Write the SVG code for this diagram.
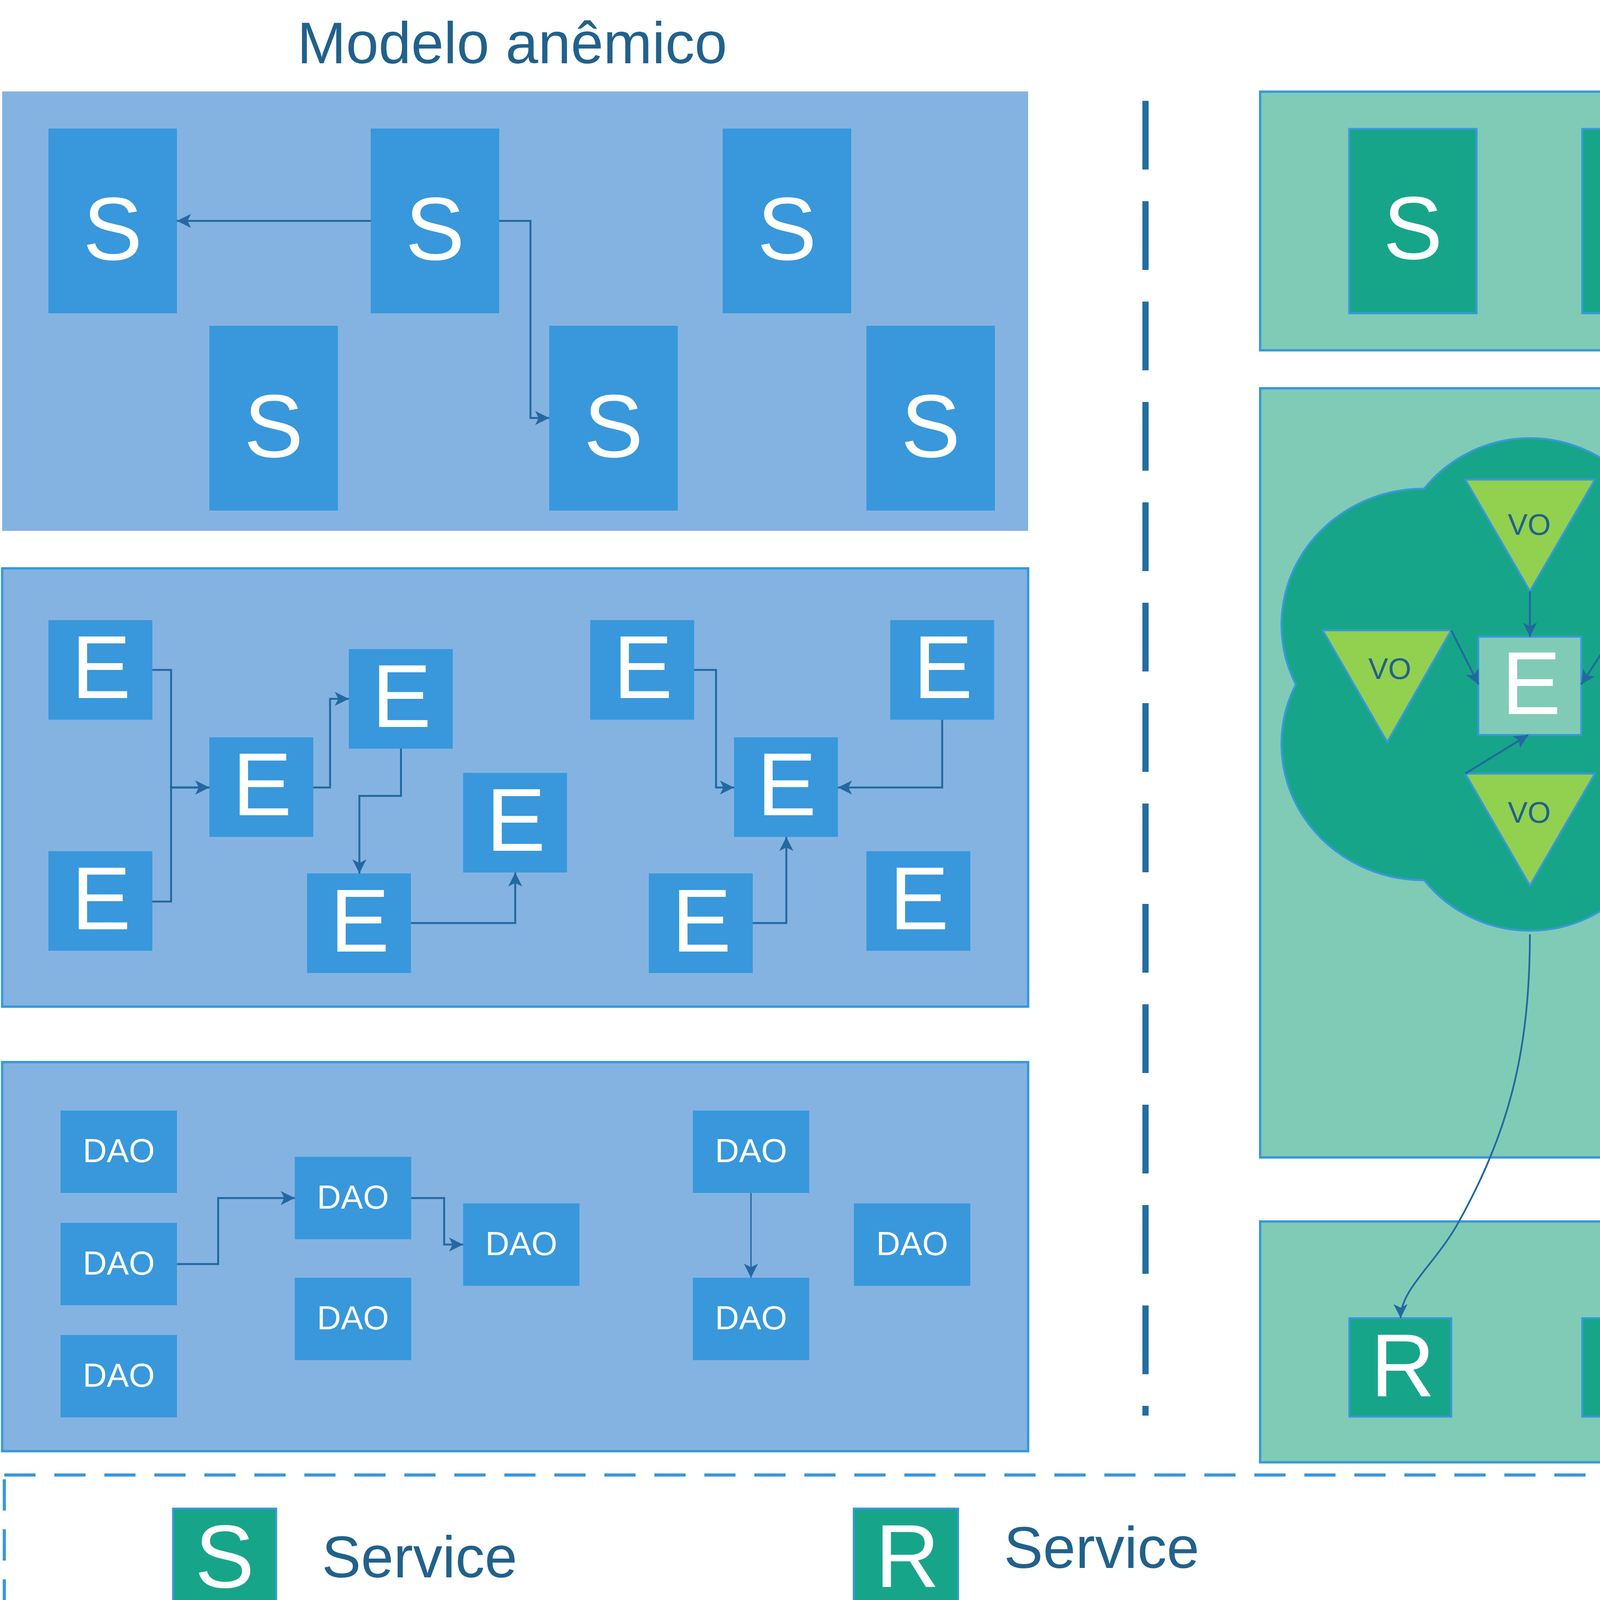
<svg xmlns="http://www.w3.org/2000/svg" width="5740" height="4400" viewBox="0 0 5740 4400">
<style>
.pl{fill:#84B3E2}
.pb{fill:#84B3E2;stroke:#3898DB;stroke-width:6}
.pg{fill:#80CBB6;stroke:#3898DB;stroke-width:6}
.nb{fill:#3898DB}
.ng{fill:#17A589;stroke:#3898DB;stroke-width:5}
.ne{fill:#2E86C1;stroke:#3898DB;stroke-width:5}
.cl{fill:#17A589;stroke:#3898DB;stroke-width:5}
.vo{fill:#92D050;stroke:#3898DB;stroke-width:5;stroke-linejoin:round}
.ei{fill:#80CBB6;stroke:#3898DB;stroke-width:5}
text{font-family:"Liberation Sans",Arial,sans-serif}
.w{fill:#FFFFFF;text-anchor:middle;font-size:228px}
.wd{fill:#FFFFFF;text-anchor:middle;font-size:85px}
.d{fill:#21618C}
.dm{fill:#21618C;text-anchor:middle}
.h{font-size:150px}
.v{font-size:76px}
.c{fill:none;stroke:#2369A0;stroke-width:5;marker-end:url(#ah)}
.cc{fill:none;stroke:#2369A0;stroke-width:4.5;marker-end:url(#ah)}
</style>
<defs>
<marker id="ah" viewBox="-40 -20 42 40" refX="0" refY="0" markerWidth="42" markerHeight="40" orient="auto" markerUnits="userSpaceOnUse"><path d="M0,0 L-36,-18 L-27,0 L-36,18 Z" fill="#2369A0"/></marker>
</defs>
<rect width="5740" height="4400" fill="#FFFFFF"/>

<g id="titles">
<text class="dm h" x="1311" y="162">Modelo anêmico</text>
<text class="dm h" x="4376" y="162">DDD</text>
</g>

<g id="divider"><line x1="2932.5" y1="258" x2="2932.5" y2="3624" stroke="#236EA0" stroke-width="16" stroke-dasharray="176 81"/></g>

<g id="anemic-services-panel"><rect class="pl" x="5.5" y="234" width="2626.5" height="1125"/></g>
<g id="as1"><rect class="nb" x="124" y="329" width="329" height="473"/><text class="w" x="288.5" y="665">S</text></g>
<g id="as2"><rect class="nb" x="949" y="329" width="329" height="473"/><text class="w" x="1113.5" y="665">S</text></g>
<g id="as3"><rect class="nb" x="1850" y="329" width="329" height="473"/><text class="w" x="2014.5" y="665">S</text></g>
<g id="as4"><rect class="nb" x="536" y="834" width="329" height="473"/><text class="w" x="700.5" y="1170">S</text></g>
<g id="as5"><rect class="nb" x="1406" y="834" width="329" height="473"/><text class="w" x="1570.5" y="1170">S</text></g>
<g id="as6"><rect class="nb" x="2218" y="834" width="329" height="473"/><text class="w" x="2382.5" y="1170">S</text></g>

<g id="anemic-entities-panel"><rect class="pb" x="5.5" y="1455" width="2626.5" height="1122"/></g>
<g id="ae1"><rect class="nb" x="124" y="1587.5" width="266" height="255"/><text class="w" x="259" y="1787">E</text></g>
<g id="ae2"><rect class="nb" x="124" y="2179" width="266" height="255"/><text class="w" x="259" y="2379">E</text></g>
<g id="ae3"><rect class="nb" x="536" y="1887.5" width="266" height="255"/><text class="w" x="671" y="2087">E</text></g>
<g id="ae4"><rect class="nb" x="893" y="1661.6" width="266" height="255"/><text class="w" x="1028" y="1861">E</text></g>
<g id="ae5"><rect class="nb" x="1185.5" y="1978.6" width="266" height="255"/><text class="w" x="1320.5" y="2178">E</text></g>
<g id="ae6"><rect class="nb" x="786" y="2236" width="266" height="255"/><text class="w" x="921" y="2436">E</text></g>
<g id="ae7"><rect class="nb" x="1511" y="1587.5" width="266" height="255"/><text class="w" x="1646" y="1787">E</text></g>
<g id="ae8"><rect class="nb" x="2279" y="1587.5" width="266" height="255"/><text class="w" x="2414" y="1787">E</text></g>
<g id="ae9"><rect class="nb" x="1879" y="1887.5" width="266" height="255"/><text class="w" x="2014" y="2087">E</text></g>
<g id="ae10"><rect class="nb" x="1661" y="2236" width="266" height="255"/><text class="w" x="1796" y="2436">E</text></g>
<g id="ae11"><rect class="nb" x="2218" y="2179" width="266" height="255"/><text class="w" x="2353" y="2379">E</text></g>

<g id="anemic-dao-panel"><rect class="pb" x="5.5" y="2719" width="2626.5" height="996"/></g>
<g id="ad1"><rect class="nb" x="155" y="2843" width="298" height="211"/><text class="wd" x="304" y="2975">DAO</text></g>
<g id="ad2"><rect class="nb" x="155" y="3130.5" width="298" height="211"/><text class="wd" x="304" y="3262.5">DAO</text></g>
<g id="ad3"><rect class="nb" x="155" y="3417.5" width="298" height="211"/><text class="wd" x="304" y="3549.5">DAO</text></g>
<g id="ad4"><rect class="nb" x="754.6" y="2961.5" width="298" height="211"/><text class="wd" x="903.6" y="3093.5">DAO</text></g>
<g id="ad5"><rect class="nb" x="754.6" y="3271" width="298" height="211"/><text class="wd" x="903.6" y="3403">DAO</text></g>
<g id="ad6"><rect class="nb" x="1185.5" y="3080.7" width="298" height="211"/><text class="wd" x="1334.5" y="3212.7">DAO</text></g>
<g id="ad7"><rect class="nb" x="1773.7" y="2843" width="298" height="211"/><text class="wd" x="1922.7" y="2975">DAO</text></g>
<g id="ad8"><rect class="nb" x="1773.7" y="3271" width="298" height="211"/><text class="wd" x="1922.7" y="3403">DAO</text></g>
<g id="ad9"><rect class="nb" x="2186" y="3080.7" width="298" height="211"/><text class="wd" x="2335" y="3212.7">DAO</text></g>

<g id="ddd-services-panel"><rect class="pg" x="3226" y="234.7" width="2506" height="662"/></g>
<g id="ds1"><rect class="ng" x="3454" y="330" width="326" height="472"/><text class="w" x="3617" y="663">S</text></g>
<g id="ds2"><rect class="ng" x="4050.5" y="330" width="326" height="472"/><text class="w" x="4213.5" y="663">S</text></g>
<g id="ds3"><rect class="ng" x="4646.7" y="330" width="326" height="472"/><text class="w" x="4809.7" y="663">S</text></g>
<g id="ds4"><rect class="ng" x="5187.7" y="330" width="326" height="472"/><text class="w" x="5350.7" y="663">S</text></g>

<g id="ddd-domain-panel"><rect class="pg" x="3226" y="994" width="2507" height="1969"/></g>

<g id="aggregate1">
<path class="cl" d="M3317.4 1752.1 A364.3 348.6 0 0 1 3645.7 1250.9 A348.6 348.6 0 0 1 4187.6 1250.9 A364.3 348.6 0 0 1 4516.8 1752.1 A364.3 348.6 0 0 1 4187.6 2253.3 A348.6 348.6 0 0 1 3645.7 2253.3 A364.3 348.6 0 0 1 3317.4 1752.1 Z"/>
<text class="dm h" x="4242.6" y="2175">A</text>
</g>
<g id="a1-vo-top"><polygon class="vo" points="3751.1,1227.8 4083,1227.8 3916.6,1513.6"/><text class="dm v" x="3915" y="1369">VO</text></g>
<g id="a1-vo-left"><polygon class="vo" points="3385.9,1613.4 3715,1613.4 3551.4,1900"/><text class="dm v" x="3558" y="1738">VO</text></g>
<g id="a1-vo-right"><polygon class="vo" points="4138.6,1613.4 4471.5,1613.4 4305,1900"/><text class="dm v" x="4302" y="1749">VO</text></g>
<g id="a1-vo-bottom"><polygon class="vo" points="3751.1,1980.5 4083,1980.5 3916.6,2267.2"/><text class="dm v" x="3915" y="2106">VO</text></g>
<g id="a1-e"><rect class="ei" x="3784.4" y="1630" width="263.6" height="251.6"/><text class="w" x="3920" y="1828">E</text></g>

<g id="aggregate2">
<path class="cl" d="M4716 1398 C4665 1260 4790 1140 4904 1177 C4950 1100 5190 1100 5327 1306.6 C5480 1330 5620 1560 5528.4 1697.5 C5565 1770 5490 1960 5338.4 1924.8 C5270 2000 5020 1990 4917 1793 C4760 1730 4640 1500 4716 1398 Z"/>
<text class="dm h" x="4935.5" y="1700">A</text>
</g>
<g id="a2-vo"><polygon class="vo" points="4832.6,1283 5163.4,1283 4999,1566.6"/><text class="dm v" x="4996" y="1394">VO</text></g>
<g id="a2-e"><rect class="ei" x="5120" y="1590" width="262" height="251"/><text class="w" x="5251" y="1786">E</text></g>

<g id="aggregate3">
<path class="cl" d="M4551.3 2342.7 A352.7 204.3 0 0 1 5058 2158 A349 204.3 0 0 1 5566.5 2338.4 A220 168 0 0 1 5566.5 2652.9 A349 205 0 0 1 5058 2834.9 A352.7 205 0 0 1 4551.3 2648.6 A220 168 0 0 1 4551.3 2342.7 Z"/>
<text class="dm h" x="4872.6" y="2781">A</text>
</g>
<g id="a3-vo-left"><polygon class="vo" points="4488,2439.2 4818.8,2439.2 4654.7,2725.5"/><text class="dm v" x="4652" y="2569">VO</text></g>
<g id="a3-vo-right"><polygon class="vo" points="5233.2,2383.7 5564,2383.7 5398.2,2670"/><text class="dm v" x="5405" y="2519">VO</text></g>
<g id="a3-e"><rect class="ei" x="4901.6" y="2370.9" width="261.6" height="250.3"/><text class="w" x="5033" y="2567">E</text></g>

<g id="ddd-repo-panel"><rect class="pg" x="3226" y="3127" width="2506" height="616.5"/></g>
<g id="r1"><rect class="ng" x="3454.3" y="3374.6" width="261" height="252"/><text class="w" x="3591" y="3573.5">R</text></g>
<g id="r2"><rect class="ng" x="4050.5" y="3374.6" width="262" height="252"/><text class="w" x="4187.5" y="3573.5">R</text></g>
<g id="r3"><rect class="ng" x="5187.7" y="3420" width="262" height="252"/><text class="w" x="5324.7" y="3619">R</text></g>

<g id="connectors">
<path class="c" d="M949 565.5 L453 565.5"/>
<path class="c" d="M1278 565.5 L1358 565.5 L1358 1070 L1406 1070"/>
<path class="c" d="M390 1715 L438 1715 L438 2016 L536 2016"/>
<path class="c" d="M390 2308 L438 2308 L438 2016 L536 2016"/>
<path class="c" d="M802 2016 L845 2016 L845 1789 L893 1789"/>
<path class="c" d="M1026.5 1916.6 L1026.5 2037.5 L920 2037.5 L920 2236"/>
<path class="c" d="M1052 2363 L1319 2363 L1319 2233.6"/>
<path class="c" d="M1777 1715 L1833 1715 L1833 2016 L1879 2016"/>
<path class="c" d="M2412 1842.5 L2412 2016 L2145 2016"/>
<path class="c" d="M1927 2363 L2013 2363 L2013 2142.5"/>
<path class="c" d="M453 3236 L558.5 3236 L558.5 3067 L754.6 3067"/>
<path class="c" d="M1052.6 3067 L1137 3067 L1137 3186 L1185.5 3186"/>
<path class="c" style="stroke-width:3.5" d="M1922.5 3054 L1922.5 3271"/>
<path class="c" d="M3916.6 1513.6 L3916.6 1630"/>
<path class="c" d="M3715 1613.4 L3785 1752"/>
<path class="c" d="M4138.6 1613.4 L4048 1752"/>
<path class="c" d="M3751 1980.5 L3912 1881.6"/>
<path class="c" d="M4999 1567 L5120 1715.5"/>
<path class="c" d="M4818.8 2439.2 L4901.6 2494.8"/>
<path class="c" d="M5233.2 2383.7 L5163.2 2494.8"/>
<path class="cc" d="M3916.6 2392 C3916 2700 3860 2900 3735 3127 C3675 3236 3585 3300 3585.6 3374.6"/>
<path class="cc" d="M5120 1716 C5060 1760 4970 1870 4904 1956 C4870 2000 4650 2110 4588 2178.6 C4540 2230 4470 2300 4390.7 2350 C4300 2400 4225 2520 4212 2664 C4200 2800 4150 2950 4147.7 3089.8 C4146 3200 4175 3300 4177 3374.6"/>
<path class="cc" d="M5032.4 2621.2 C5035 2850 5080 3000 5160 3140 C5240 3280 5316 3340 5319 3420"/>
</g>

<g id="legend">
<rect x="11" y="3776" width="5704" height="613.5" fill="none" stroke="#3898DB" stroke-width="8" stroke-dasharray="80 48"/>
</g>
<g id="legend-s"><rect class="ng" x="443" y="3862" width="264" height="253"/><text class="w" x="575" y="4064">S</text><text class="d h" x="824" y="4038">Service</text></g>
<g id="legend-e"><rect class="ne" x="443" y="4123" width="264" height="256"/><text class="w" x="575" y="4324">E</text><text class="d h" x="890" y="4300">Entity</text></g>
<g id="legend-r"><rect class="ng" x="2185.6" y="3862" width="267" height="256"/><text class="w" x="2323" y="4062">R</text><text class="d h" x="2570" y="4013.6">Service</text></g>
<g id="legend-a"><text class="d h" x="2277" y="4300">A</text><text class="d h" x="2636" y="4274.5">Entity</text></g>
<g id="legend-vo"><polygon class="vo" points="4111,3895 4375,3895 4243,4123"/><text class="dm v" x="4243" y="3988">VO</text><text class="d h" x="4492" y="4032.5">Service</text></g>
<g id="legend-dao"><rect class="nb" x="4111" y="4145" width="300" height="212"/><text class="wd" x="4261" y="4282">DAO</text><text class="d h" x="4562" y="4293.5">Entity</text></g>
</svg>
